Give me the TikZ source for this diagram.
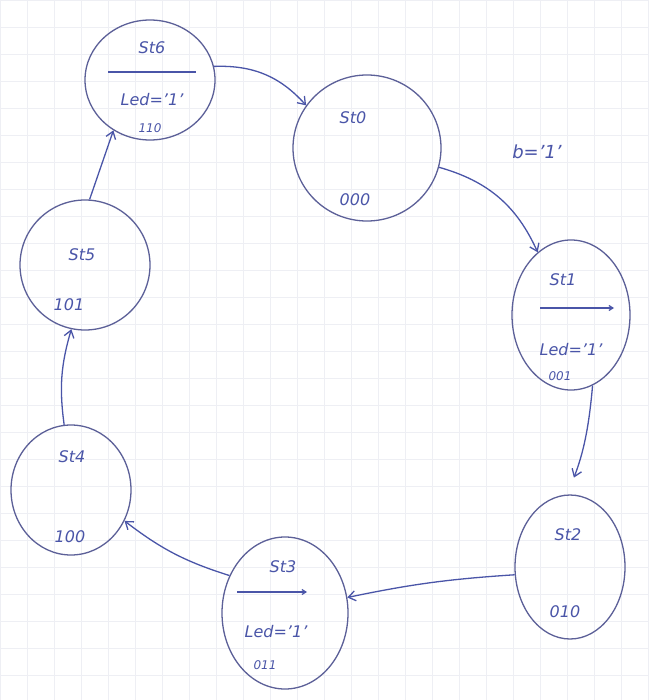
\documentclass[tikz,border=0pt]{standalone}
\usepackage{fontspec}
\setmainfont{DejaVu Sans}
\usetikzlibrary{shapes.geometric,arrows.meta}
\definecolor{ink}{HTML}{4A55A8}
\definecolor{rim}{HTML}{5C6098}
\definecolor{gridc}{HTML}{EEEFF4}
\tikzset{
  state/.style={ellipse, draw=rim, line width=1.3pt, inner sep=0pt},
  txt/.style={text=ink, font=\fontsize{16}{18}\selectfont\itshape, inner sep=0pt},
  small/.style={text=ink, font=\fontsize{12}{14}\selectfont\itshape, inner sep=0pt},
  conn/.style={draw=ink, line width=1.3pt, -{Straight Barb[length=7pt,width=10pt]}},
  bar/.style={draw=ink, line width=1.2pt},
  gridline/.style={draw=gridc, line width=0.6pt}
}
\begin{document}
\begin{tikzpicture}[x=1pt,y=-1pt]
\fill[white] (0,0) rectangle (649,700);
\useasboundingbox (0,0) rectangle (649,700);
\foreach \g in {0,27,...,700} {
  \draw[gridline] (\g,0) -- (\g,700);
  \draw[gridline] (0,\g) -- (649,\g);
}
% states
\node[state, minimum width=130, minimum height=120] (s6) at (150,80) {};
\node[state, minimum width=148, minimum height=146] (s0) at (367,148) {};
\node[state, minimum width=118, minimum height=150] (s1) at (571,315) {};
\node[state, minimum width=110, minimum height=144] (s2) at (570,567) {};
\node[state, minimum width=126, minimum height=152] (s3) at (285,613) {};
\node[state, minimum width=120, minimum height=130] (s4) at (71,490) {};
\node[state, minimum width=130, minimum height=130] (s5) at (85,265) {};
% texts
\node[txt] (t6a) at (152,48) {St6};
\coordinate (b6l) at (108,72); \coordinate (b6r) at (196,72);
\draw[bar] (b6l) -- (b6r);
\node[txt] (t6b) at (152,100) {Led='1'};
\node[small] (t6c) at (150,128) {110};
\node[txt] (t0a) at (353,118) {St0};
\node[txt] (t0b) at (355,200) {000};
\node[txt] (t1a) at (563,280) {St1};
\coordinate (b1l) at (540,308); \coordinate (b1r) at (614,308);
\draw[bar,-{Straight Barb[length=4pt,width=5pt]}] (b1l) -- (b1r);
\node[txt] (t1b) at (571,350) {Led='1'};
\node[small] (t1c) at (560,376) {001};
\node[txt] (t2a) at (568,535) {St2};
\node[txt] (t2b) at (565,612) {010};
\node[txt] (t3a) at (283,567) {St3};
\coordinate (b3l) at (237,592); \coordinate (b3r) at (307,592);
\draw[bar,-{Straight Barb[length=4pt,width=5pt]}] (b3l) -- (b3r);
\node[txt] (t3b) at (276,632) {Led='1'};
\node[small] (t3c) at (265,665) {011};
\node[txt] (t4a) at (72,457) {St4};
\node[txt] (t4b) at (70,537) {100};
\node[txt] (t5a) at (82,255) {St5};
\node[txt] (t5b) at (69,305) {101};
\node[txt, font=\fontsize{18}{20}\selectfont\itshape] (lb) at (537,152) {b='1'};
% connectors
\draw[conn] (s6.12) to[bend left=25] (s0.145);
\draw[conn] (s0.345) to[bend left=25] (s1.118);
\draw[conn, shorten >=18pt] (s1.287) to[bend left=8] (s2.92);
\draw[conn] (s2.188) to[bend right=4] (s3.14);
\draw[conn] (s3.146) to[bend left=10] (s4.330);
\draw[conn] (s4.96) to[bend left=12] (s5.258);
\draw[conn] (s5.86) -- (s6.234);
\end{tikzpicture}
\end{document}
